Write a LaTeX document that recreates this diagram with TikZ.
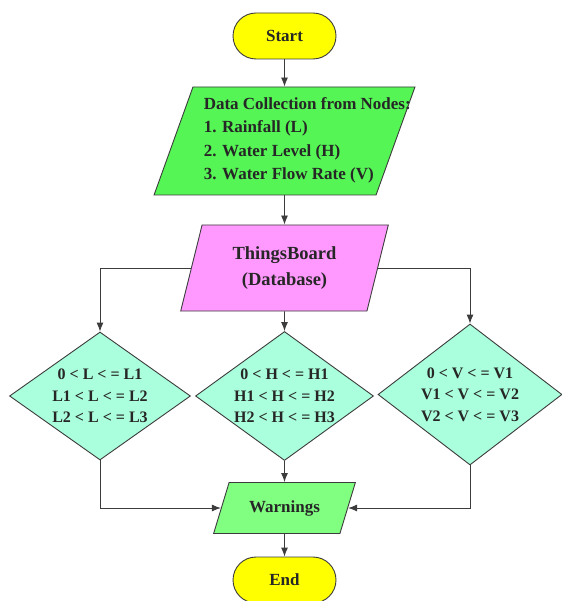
\documentclass[tikz,border=0pt]{standalone}
\usepackage{fontspec}
\setmainfont{Liberation Serif}
\usetikzlibrary{shapes.geometric,arrows.meta}

\definecolor{termyellow}{RGB}{255,255,0}
\definecolor{datagreen}{RGB}{85,245,85}
\definecolor{dbpink}{RGB}{255,153,255}
\definecolor{condaqua}{RGB}{170,255,221}
\definecolor{warngreen}{RGB}{128,255,128}
\definecolor{linegray}{RGB}{60,60,60}

\def\colL{100}
\def\colH{284.5}
\def\colV{470}

\begin{document}
\begin{tikzpicture}[x=1pt, y=-1pt, draw=linegray, line width=0.9pt, text=black!85]
        \tikzstyle{conn}=[-{Latex[length=9pt,width=7pt]}, draw=linegray]
        \tikzstyle{terminal}=[rectangle, rounded corners=23pt, draw, fill=termyellow, minimum width=103pt, minimum height=46pt, font=\bfseries\fontsize{17}{20}\selectfont]
        \tikzstyle{iobox}=[trapezium, trapezium stretches=true, draw, align=center]
        \tikzstyle{check}=[diamond, aspect=1.41, draw, fill=condaqua, inner sep=-6pt, align=center, font=\bfseries\fontsize{16}{21.5}\selectfont]

        \useasboundingbox (0,0) rectangle (561,601);

        \node[terminal] (start) at (\colH,36) {Start};

        \node[iobox, fill=datagreen, trapezium left angle=78, trapezium right angle=102, minimum width=261pt, minimum height=108pt] (data) at (\colH,141) {};
        \node[anchor=west, align=left, font=\bfseries\fontsize{17}{23.5}\selectfont] (data-txt) at (200,140.5) {Data Collection from Nodes:\\1. Rainfall (L)\\2. Water Level (H)\\3. Water Flow Rate (V)};

        \node[iobox, fill=dbpink, trapezium left angle=74, trapezium right angle=106, minimum width=208pt, minimum height=86pt, font=\bfseries\fontsize{18.5}{26.5}\selectfont] (tb) at (\colH,268) {ThingsBoard\\(Database)};

        % one check per measured quantity
        \node[check, minimum width=181pt, minimum height=128pt] (chk-L) at (\colL,396) {0 < L < = L1\\L1 < L < = L2\\L2 < L < = L3};
        \node[check, minimum width=178pt, minimum height=129pt] (chk-H) at (\colH,396) {0 < H < = H1\\H1 < H < = H2\\H2 < H < = H3};
        \node[check, minimum width=184pt, minimum height=141pt] (chk-V) at (\colV,394.5) {0 < V < = V1\\V1 < V < = V2\\V2 < V < = V3};

        \node[iobox, fill=warngreen, trapezium left angle=64, trapezium right angle=116, minimum width=143pt, minimum height=51pt, font=\bfseries\fontsize{17}{20}\selectfont] (warn) at (\colH,508) {Warnings};

        \node[terminal] (end) at (\colH,580) {End};

        \path[conn]
            (start) edge (data)
            (data) edge (tb)
            (tb) edge (chk-H)
            (chk-H) edge (warn)
            (warn) edge (end)
        ;
        \draw[conn] (tb.left side) -| (chk-L.north);
        \draw[conn] (tb.right side) -| (chk-V.north);
        \draw[conn] (chk-L.south) |- (warn.left side);
        \draw[conn] (chk-V.south) |- (warn.right side);
    \end{tikzpicture}
\end{document}
